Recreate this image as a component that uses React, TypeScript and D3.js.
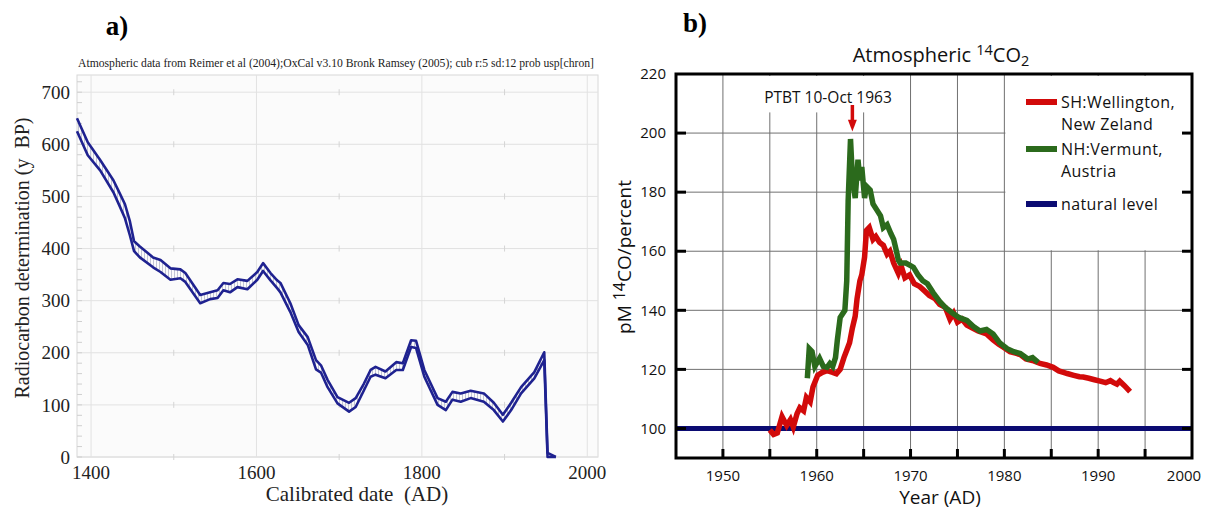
import React, { useEffect, useRef } from 'react';
import * as d3 from 'd3';

// ---- panel a) radiocarbon calibration curve (upper / lower bound)
const cal_years = [1383, 1396, 1411, 1427, 1435, 1441, 1447, 1452, 1459, 1475, 1484, 1496, 1508, 1514, 1532, 1544, 1553, 1560, 1568, 1577, 1589, 1601, 1608, 1617, 1625, 1629, 1641, 1651, 1662, 1672, 1678, 1686, 1698, 1712, 1720, 1730, 1738, 1744, 1756, 1769, 1777, 1787, 1793, 1803, 1819, 1829, 1837, 1847, 1859, 1875, 1887, 1898, 1908, 1920, 1936, 1948, 1952, 1962];
const cal_upper = [650, 604, 570, 531, 505, 485, 452, 414, 404, 383, 378, 362, 360, 353, 311, 316, 320, 334, 332, 341, 338, 355, 372, 353, 339, 334, 295, 253, 230, 186, 176, 148, 115, 104, 113, 141, 167, 173, 164, 182, 180, 224, 223, 167, 113, 106, 125, 122, 127, 122, 104, 81, 104, 134, 163, 201, 8, 0];
const cal_lower = [625, 579, 550, 508, 480, 458, 425, 395, 383, 364, 355, 340, 343, 336, 295, 303, 305, 320, 316, 326, 322, 340, 357, 339, 324, 316, 278, 240, 215, 168, 162, 134, 103, 87, 96, 128, 154, 158, 151, 167, 167, 211, 209, 154, 100, 90, 110, 106, 113, 106, 90, 68, 90, 122, 151, 186, 0, 0];
const cal_x_ticks = [1400, 1600, 1800, 2000];
const cal_x_minor = [1500, 1700, 1900];
const cal_y_ticks = [0, 100, 200, 300, 400, 500, 600, 700];

// ---- panel b) atmospheric 14CO2
const sh_years = [1955.0, 1955.4, 1955.8, 1956.3, 1956.8, 1957.2, 1957.5, 1957.9, 1958.2, 1958.6, 1958.9, 1959.3, 1959.6, 1960.1, 1960.6, 1961.1, 1961.7, 1962.1, 1962.5, 1962.9, 1963.2, 1963.5, 1963.8, 1964.1, 1964.3, 1964.6, 1964.8, 1965.1, 1965.3, 1965.6, 1966.0, 1966.3, 1966.7, 1967.1, 1967.5, 1967.8, 1968.2, 1968.7, 1969.0, 1969.4, 1969.9, 1970.4, 1971.0, 1971.5, 1972.0, 1972.6, 1973.1, 1973.7, 1974.2, 1974.6, 1975.0, 1975.5, 1976.0, 1976.6, 1977.2, 1978.1, 1978.8, 1979.4, 1979.9, 1980.6, 1981.2, 1981.7, 1982.3, 1983.0, 1983.8, 1984.5, 1985.2, 1985.8, 1986.3, 1986.7, 1987.4, 1988.0, 1988.4, 1989.0, 1989.6, 1990.2, 1990.8, 1991.3, 1991.6, 1992.0, 1992.3, 1992.8, 1993.4];
const sh_values = [99.5, 98, 98.5, 104, 101, 103, 100.5, 105, 107, 106, 110.5, 109, 114, 118, 119, 119.6, 119, 118.5, 120, 124, 126.5, 129, 134, 138, 144, 150, 152, 158, 167, 168, 164, 165, 163, 162, 159, 160, 156, 152.5, 155, 151, 152, 149, 148, 146.5, 145, 144, 142, 141, 137, 139, 136, 137, 135, 134, 133, 132, 130, 128.5, 127.5, 126, 125.5, 125, 123.5, 123, 122, 121.5, 120.7, 119.5, 119, 118.6, 118, 117.5, 117.4, 117, 116.5, 116, 115.5, 116.2, 115.6, 115, 116, 114.5, 112.5];
const nh_years = [1959.0, 1959.2, 1959.5, 1959.8, 1960.3, 1960.7, 1961.1, 1961.4, 1961.7, 1962.0, 1962.2, 1962.5, 1963.0, 1963.2, 1963.35, 1963.6, 1963.8, 1964.1, 1964.4, 1964.6, 1964.8, 1965.1, 1965.3, 1965.7, 1966.0, 1966.4, 1966.8, 1967.1, 1967.5, 1967.9, 1968.2, 1968.5, 1968.7, 1968.9, 1969.5, 1970.3, 1970.8, 1971.3, 1971.8, 1972.4, 1973.1, 1973.7, 1974.5, 1975.2, 1976.0, 1976.7, 1977.4, 1978.1, 1978.8, 1979.5, 1980.3, 1981.0, 1981.7, 1982.5, 1983.0, 1983.6];
const nh_values = [117, 127, 126, 121, 123.7, 121, 120.7, 122, 121, 124, 130, 137.6, 140, 150, 177, 198, 185, 178, 191, 184, 188.5, 178, 182, 180.7, 176, 174, 172, 168, 169, 166, 164, 160, 157, 156, 156, 154.6, 152, 150, 149, 146, 143, 141, 139, 137.5, 136.6, 134.5, 133, 133.5, 132, 129, 127, 126, 125.4, 123.5, 124, 122.4];
const natural_level = 100;
const ptbt_year = 1963.8;
const co2_x_ticks = [1950, 1960, 1970, 1980, 1990, 2000];
const co2_x_grid = [1950, 1955, 1960, 1965, 1970, 1975, 1980, 1985, 1990, 1995];
const co2_y_ticks = [100, 120, 140, 160, 180, 200, 220];

const SERIF = '"Liberation Serif", "Times New Roman", serif';
const SANS = '"Open Sans", "Noto Sans", sans-serif';
const RED = '#d20a0a';
const GREEN = '#2b6a1c';
const NAVY = '#0b0b72';

export default function App() {
  const ref = useRef<SVGSVGElement>(null);

  useEffect(() => {
    const svg = d3.select(ref.current);
    svg.selectAll('*').remove();

    // ================= panel a =================
    const lx = d3.scaleLinear().domain([1383, 2013]).range([77, 598]);
    const ly = d3.scaleLinear().domain([0, 733]).range([457, 75]);
    const a = svg.append('g');

    a.append('text').attr('x', 117).attr('y', 35).attr('text-anchor', 'middle')
      .attr('font-family', SERIF).attr('font-weight', 'bold').attr('font-size', 27).text('a)');

    a.append('text').attr('x', 78).attr('y', 67).attr('font-family', SERIF).attr('font-size', 11.5)
      .attr('fill', '#222').attr('textLength', 516).attr('lengthAdjust', 'spacingAndGlyphs')
      .text('Atmospheric data from Reimer et al (2004);OxCal v3.10 Bronk Ramsey (2005); cub r:5 sd:12 prob usp[chron]');

    a.append('rect').attr('x', lx.range()[0]).attr('y', ly.range()[1])
      .attr('width', lx.range()[1] - lx.range()[0]).attr('height', ly.range()[0] - ly.range()[1])
      .attr('fill', '#fbfbfb').attr('stroke', '#d8d8d8');

    a.append('g').selectAll('line').data(cal_y_ticks).join('line')
      .attr('x1', lx.range()[0]).attr('x2', lx.range()[1])
      .attr('y1', d => ly(d)).attr('y2', d => ly(d))
      .attr('stroke', '#e2e2e2');
    a.append('g').selectAll('line').data(cal_x_ticks).join('line')
      .attr('x1', d => lx(d)).attr('x2', d => lx(d))
      .attr('y1', ly.range()[0]).attr('y2', ly.range()[1])
      .attr('stroke', '#e2e2e2');
    // small crosses at the minor years
    const minor = cal_x_minor.flatMap(yr => cal_y_ticks.map(v => ({ yr, v })));
    a.append('g').selectAll('line').data(minor).join('line')
      .attr('x1', d => lx(d.yr)).attr('x2', d => lx(d.yr))
      .attr('y1', d => ly(d.v) - 3).attr('y2', d => ly(d.v) + 3)
      .attr('stroke', '#d4d4d4');
    a.append('g').selectAll('line').data(d3.range(0, 733, 20)).join('line')
      .attr('x1', lx.range()[0]).attr('x2', lx.range()[0] + 5)
      .attr('y1', d => ly(d)).attr('y2', d => ly(d))
      .attr('stroke', '#cfcfcf');

    const cal = cal_years.map((yr, i) => ({ yr, hi: cal_upper[i], lo: cal_lower[i] }));
    const defs = svg.append('defs');
    defs.append('pattern').attr('id', 'hatch').attr('patternUnits', 'userSpaceOnUse')
      .attr('width', 3).attr('height', 10)
      .append('line').attr('x1', 0.5).attr('x2', 0.5).attr('y1', 0).attr('y2', 10)
      .attr('stroke', '#b4b6cc').attr('stroke-width', 0.8);
    a.append('path').datum(cal)
      .attr('d', d3.area<any>().x(d => lx(d.yr)).y0(d => ly(d.lo)).y1(d => ly(d.hi)))
      .attr('fill', 'url(#hatch)');
    const cal_line = (key: 'hi' | 'lo') => d3.line<any>().x(d => lx(d.yr)).y(d => ly(d[key]));
    for (const key of ['hi', 'lo'] as const) {
      a.append('path').datum(cal).attr('d', cal_line(key))
        .attr('fill', 'none').attr('stroke', '#1f2290').attr('stroke-width', 2.6)
        .attr('stroke-linejoin', 'round');
    }

    a.append('g').selectAll('text').data(cal_y_ticks).join('text')
      .attr('x', 70).attr('y', d => ly(d)).attr('dy', '0.35em').attr('text-anchor', 'end')
      .attr('font-family', SERIF).attr('font-size', 19).attr('fill', '#222').text(d => d);
    a.append('g').selectAll('text').data(cal_x_ticks).join('text')
      .attr('x', d => lx(d)).attr('y', 479).attr('text-anchor', 'middle')
      .attr('font-family', SERIF).attr('font-size', 19).attr('fill', '#222').text(d => d);
    a.append('text').attr('x', 357).attr('y', 501).attr('text-anchor', 'middle')
      .attr('font-family', SERIF).attr('font-size', 21).attr('fill', '#222')
      .style('white-space', 'pre').text('Calibrated date  (AD)');
    a.append('text').attr('transform', 'translate(29,258) rotate(-90)').attr('text-anchor', 'middle')
      .attr('font-family', SERIF).attr('font-size', 20).attr('fill', '#222')
      .style('white-space', 'pre').text('Radiocarbon determination (y  BP)');

    // ================= panel b =================
    const rx = d3.scaleLinear().domain([1945, 2000]).range([676, 1192]);
    const ry = d3.scaleLinear().domain([90, 220]).range([458, 74]);
    const b = svg.append('g');

    b.append('text').attr('x', 695).attr('y', 32).attr('text-anchor', 'middle')
      .attr('font-family', SERIF).attr('font-weight', 'bold').attr('font-size', 27).text('b)');

    const title = b.append('text').attr('x', 941).attr('y', 62).attr('text-anchor', 'middle')
      .attr('font-family', SANS).attr('font-size', 20).attr('fill', '#111');
    title.append('tspan').text('Atmospheric ');
    title.append('tspan').attr('font-size', 14.5).attr('dy', -7).text('14');
    title.append('tspan').attr('dy', 7).text('CO');
    title.append('tspan').attr('font-size', 14.5).attr('dy', 4).text('2');

    // grid
    b.append('g').selectAll('line').data(co2_x_grid).join('line')
      .attr('x1', d => rx(d)).attr('x2', d => rx(d))
      .attr('y1', ry.range()[0]).attr('y2', ry.range()[1])
      .attr('stroke', '#707070').attr('stroke-width', 1);
    b.append('g').selectAll('line').data(co2_y_ticks.slice(1, -1)).join('line')
      .attr('x1', rx.range()[0]).attr('x2', rx.range()[1])
      .attr('y1', d => ry(d)).attr('y2', d => ry(d))
      .attr('stroke', '#707070').attr('stroke-width', 1);
    // blank areas behind the PTBT label and the legend
    b.append('rect').attr('x', rx(1951)).attr('y', ry(220) + 2)
      .attr('width', rx(1969) - rx(1951)).attr('height', ry(207) - ry(220) - 2).attr('fill', '#fff');
    b.append('rect').attr('x', rx(1980) + 1).attr('y', ry(220) + 2)
      .attr('width', rx(2000) - rx(1980) - 3).attr('height', ry(160) - ry(220) - 3).attr('fill', '#fff');

    // natural level
    b.append('line').attr('x1', rx(1945)).attr('x2', rx(2000))
      .attr('y1', ry(natural_level)).attr('y2', ry(natural_level))
      .attr('stroke', NAVY).attr('stroke-width', 5);

    const series_line = d3.line<[number, number]>().x(d => rx(d[0])).y(d => ry(d[1]));
    const sh = sh_years.map((yr, i) => [yr, sh_values[i]] as [number, number]);
    const nh = nh_years.map((yr, i) => [yr, nh_values[i]] as [number, number]);
    b.append('path').datum(sh).attr('d', series_line)
      .attr('fill', 'none').attr('stroke', RED).attr('stroke-width', 5.5).attr('stroke-linejoin', 'miter');
    b.append('path').datum(nh).attr('d', series_line)
      .attr('fill', 'none').attr('stroke', GREEN).attr('stroke-width', 5.5).attr('stroke-linejoin', 'miter');

    // PTBT arrow
    b.append('text').attr('x', 828).attr('y', 103).attr('text-anchor', 'middle')
      .attr('font-family', SANS).attr('font-size', 15.5).attr('fill', '#111').text('PTBT 10-Oct 1963');
    const ax = rx(ptbt_year);
    b.append('line').attr('x1', ax).attr('x2', ax).attr('y1', ry(209.5)).attr('y2', ry(204))
      .attr('stroke', RED).attr('stroke-width', 3.5);
    b.append('path')
      .attr('d', `M${ax - 4.5},${ry(204.5)} L${ax + 4.5},${ry(204.5)} L${ax},${ry(200.5)} Z`)
      .attr('fill', RED);

    // frame and ticks
    b.append('rect').attr('x', rx.range()[0]).attr('y', ry.range()[1])
      .attr('width', rx.range()[1] - rx.range()[0]).attr('height', ry.range()[0] - ry.range()[1])
      .attr('fill', 'none').attr('stroke', '#000').attr('stroke-width', 3);
    b.append('g').selectAll('line').data(co2_y_ticks.slice(0, -1)).join('line')
      .attr('x1', rx.range()[0]).attr('x2', rx.range()[0] + 10)
      .attr('y1', d => ry(d)).attr('y2', d => ry(d)).attr('stroke', '#000').attr('stroke-width', 3);
    b.append('g').selectAll('line').data(co2_y_ticks.slice(0, -1)).join('line')
      .attr('x1', rx.range()[1]).attr('x2', rx.range()[1] - 10)
      .attr('y1', d => ry(d)).attr('y2', d => ry(d)).attr('stroke', '#000').attr('stroke-width', 3);
    b.append('g').selectAll('line').data(co2_x_grid).join('line')
      .attr('x1', d => rx(d)).attr('x2', d => rx(d))
      .attr('y1', ry.range()[0]).attr('y2', ry.range()[0] - 9).attr('stroke', '#000').attr('stroke-width', 3);

    b.append('g').selectAll('text').data(co2_y_ticks).join('text')
      .attr('x', 666).attr('y', d => ry(d)).attr('dy', '0.35em').attr('text-anchor', 'end')
      .attr('font-family', SANS).attr('font-size', 15).attr('fill', '#111').text(d => d);
    b.append('g').selectAll('text').data(co2_x_ticks).join('text')
      .attr('x', d => rx(d) - (d === 2000 ? 8 : 0)).attr('y', 481).attr('text-anchor', 'middle')
      .attr('font-family', SANS).attr('font-size', 15).attr('fill', '#111').text(d => d);
    b.append('text').attr('x', 940).attr('y', 504).attr('text-anchor', 'middle')
      .attr('font-family', SANS).attr('font-size', 19).attr('fill', '#111').text('Year (AD)');
    const ylab = b.append('text').attr('transform', 'translate(631,257) rotate(-90)').attr('text-anchor', 'middle')
      .attr('font-family', SANS).attr('font-size', 19).attr('fill', '#111');
    ylab.append('tspan').text('pM ');
    ylab.append('tspan').attr('font-size', 16).attr('dy', -6).text('14');
    ylab.append('tspan').attr('dy', 6).text('CO/percent');

    // legend
    const legend = [
      { color: RED, lines: ['SH:Wellington,', 'New Zeland'], y: 102 },
      { color: GREEN, lines: ['NH:Vermunt,', 'Austria'], y: 149 },
      { color: NAVY, lines: ['natural level'], y: 204 },
    ];
    const lg = b.append('g').selectAll('g').data(legend).join('g');
    lg.append('line').attr('x1', 1026).attr('x2', 1057).attr('y1', d => d.y).attr('y2', d => d.y)
      .attr('stroke', d => d.color).attr('stroke-width', 6);
    lg.selectAll('text').data(d => d.lines.map((t, i) => ({ t, i, y: d.y }))).join('text')
      .attr('font-family', SANS).attr('font-size', 16).attr('letter-spacing', 0.4).attr('fill', '#111')
      .attr('x', 1061).attr('y', d => d.y + 6 + d.i * 22).text(d => d.t);
  }, []);

  return (
    <svg ref={ref} width={1208} height={511}
      style={{ position: 'absolute', left: 0, top: 0, background: '#fff' }} />
  );
}
